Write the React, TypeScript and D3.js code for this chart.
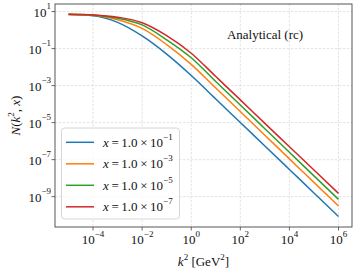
import * as d3 from "d3";

// k^2 sample points [GeV^2]
const k2Values = [1e-5, 1e-4, 1e-3, 1e-2, 1e-1, 1e0, 1e1, 1e2, 1e3, 1e4, 1e5, 1e6];

// N(k^2, x), one array per x value
const nX1e1 = [6.9, 5.9, 2.6, 0.48, 5.0e-2, 3.5e-3, 1.9e-4, 1.02e-5, 5.5e-7, 2.95e-8, 1.58e-9, 8.5e-11];
const nX1e3 = [6.9, 6.3, 3.6, 1.23, 0.166, 1.41e-2, 7.4e-4, 4.0e-5, 2.1e-6, 1.1e-7, 5.9e-9, 3.1e-10];
const nX1e5 = [7.1, 6.5, 4.4, 1.9, 0.3, 3.2e-2, 1.66e-3, 8.9e-5, 4.7e-6, 2.5e-7, 1.32e-8, 7.1e-10];
const nX1e7 = [7.1, 6.6, 5.0, 2.5, 0.5, 5.6e-2, 3.1e-3, 1.7e-4, 9.1e-6, 5.0e-7, 2.75e-8, 1.5e-9];

const seriesExps = ["−1", "−3", "−5", "−7"];
const seriesColors = ["#1f77b4", "#ff7f0e", "#2ca02c", "#d62728"];
const seriesValues = [nX1e1, nX1e3, nX1e5, nX1e7];

const xTickExps = [-4, -2, 0, 2, 4, 6];
const yTickExps = [1, -1, -3, -5, -7, -9];

const W = 357;
const H = 271;
const margin = { top: 4, right: 5, bottom: 44, left: 55 };
const FONT = "'Liberation Serif', 'Times New Roman', serif";

const fmtExp = (e: number) => (e < 0 ? "−" + Math.abs(e) : String(e));

export default function App() {
  const x = d3
    .scaleLog()
    .domain([Math.pow(10, -5.55), Math.pow(10, 6.55)])
    .range([margin.left, W - margin.right]);
  const y = d3
    .scaleLog()
    .domain([Math.pow(10, -10.64), Math.pow(10, 1.41)])
    .range([H - margin.bottom, margin.top]);

  const line = d3
    .line<number>()
    .x((_, i) => x(k2Values[i]))
    .y(d => y(d))
    .curve(d3.curveMonotoneX);

  const x0 = margin.left;
  const x1 = W - margin.right;
  const y0 = margin.top;
  const y1 = H - margin.bottom;

  return (
    <svg
      width={W}
      height={H}
      style={{ position: "absolute", left: 0, top: 0, background: "#fff" }}
      fontFamily={FONT}
    >
      {/* grid */}
      {xTickExps.map(e => (
        <line key={"gx" + e} x1={x(Math.pow(10, e))} x2={x(Math.pow(10, e))} y1={y0} y2={y1}
          stroke="#dcdcdc" strokeWidth={0.8} strokeDasharray="2.5,1.5" />
      ))}
      {yTickExps.map(e => (
        <line key={"gy" + e} x1={x0} x2={x1} y1={y(Math.pow(10, e))} y2={y(Math.pow(10, e))}
          stroke="#dcdcdc" strokeWidth={0.8} strokeDasharray="2.5,1.5" />
      ))}

      {/* curves */}
      {seriesValues.map((vals, i) => (
        <path key={"s" + i} d={line(vals) || ""} fill="none" stroke={seriesColors[i]} strokeWidth={1.5} />
      ))}

      {/* frame */}
      <rect x={x0} y={y0} width={x1 - x0} height={y1 - y0} fill="none" stroke="#444" strokeWidth={0.9} />

      {/* x ticks */}
      {xTickExps.map(e => {
        const px = x(Math.pow(10, e));
        return (
          <g key={"xt" + e}>
            <line x1={px} x2={px} y1={y1} y2={y1 + 3.5} stroke="#444" strokeWidth={0.8} />
            <text x={px} y={y1 + 17} textAnchor="middle" fontSize={13} fill="#111">
              10<tspan dy={-7} fontSize={9}>{fmtExp(e)}</tspan>
            </text>
          </g>
        );
      })}

      {/* y ticks */}
      {yTickExps.map(e => {
        const py = y(Math.pow(10, e));
        return (
          <g key={"yt" + e}>
            <line x1={x0 - 3.5} x2={x0} y1={py} y2={py} stroke="#444" strokeWidth={0.8} />
            <text x={x0 - 4} y={py + 5} textAnchor="end" fontSize={13} fill="#111">
              10<tspan dy={-8} fontSize={9}>{fmtExp(e)}</tspan>
            </text>
          </g>
        );
      })}

      {/* axis labels */}
      <text x={(x0 + x1) / 2} y={266} textAnchor="middle" fontSize={13} fill="#111">
        <tspan fontStyle="italic">k</tspan>
        <tspan dy={-6} fontSize={9}>2</tspan>
        <tspan dy={6}> [GeV</tspan>
        <tspan dy={-6} fontSize={9}>2</tspan>
        <tspan dy={6}>]</tspan>
      </text>
      <text transform={`translate(20,${(y0 + y1) / 2}) rotate(-90)`} textAnchor="middle" fontSize={13} fill="#111">
        <tspan fontStyle="italic">N</tspan>(<tspan fontStyle="italic">k</tspan>
        <tspan dy={-6} fontSize={9}>2</tspan>
        <tspan dy={6}>, </tspan>
        <tspan fontStyle="italic">x</tspan>)
      </text>

      {/* annotation */}
      <text x={265} y={39} textAnchor="middle" fontSize={13} fill="#111">Analytical (rc)</text>

      {/* legend */}
      <rect x={61.5} y={128} width={118} height={91} rx={3} fill="#fff" fillOpacity={0.8} stroke="#ccc" strokeWidth={0.8} />
      {seriesExps.map((ex, i) => {
        const ly = 142.3 + i * 21.5;
        return (
          <g key={"lg" + i}>
            <line x1={66} x2={94} y1={ly} y2={ly} stroke={seriesColors[i]} strokeWidth={1.5} />
            <text x={103} y={ly + 4.5} fontSize={13} fill="#111">
              <tspan fontStyle="italic">x</tspan>
              <tspan>{"\u2009=\u20091.0\u2009×\u200910"}</tspan>
              <tspan dy={-7} fontSize={9}>{ex}</tspan>
            </text>
          </g>
        );
      })}
    </svg>
  );
}
